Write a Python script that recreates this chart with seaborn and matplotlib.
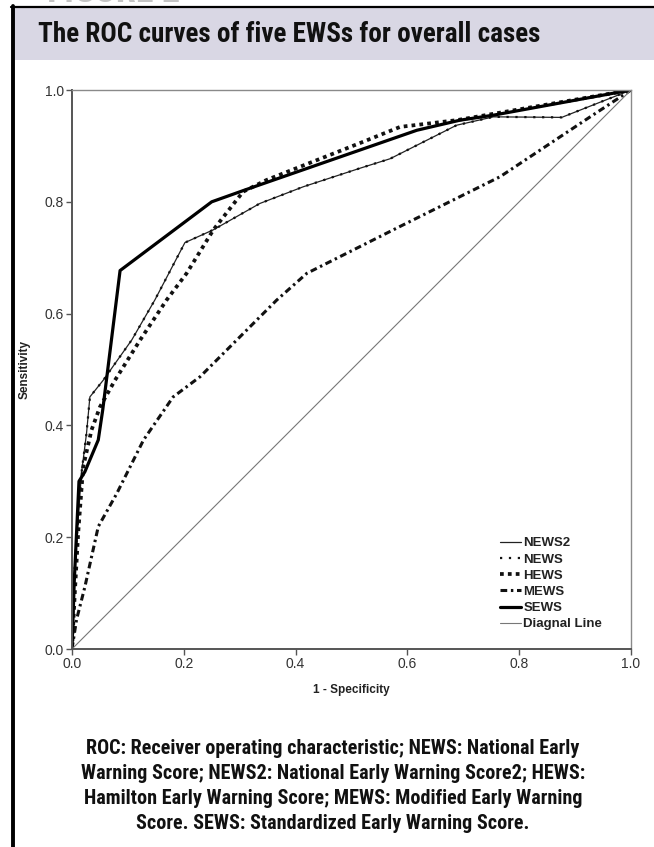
import matplotlib
matplotlib.use("Agg")
import matplotlib.pyplot as plt
from matplotlib import font_manager
from matplotlib.patches import Rectangle
from matplotlib.lines import Line2D
import seaborn as sns
import pandas as pd

# ---------------- data ----------------
news2_x = [0, 0.005, 0.017, 0.026, 0.032, 0.056, 0.107, 0.148, 0.202, 0.253, 0.336, 0.414, 0.515, 0.569, 0.688, 0.754, 0.876, 1.0]
news2_y = [0, 0.15, 0.315, 0.386, 0.451, 0.481, 0.553, 0.624, 0.727, 0.75, 0.797, 0.827, 0.86, 0.877, 0.937, 0.952, 0.951, 1.0]
news_x = [0, 0.005, 0.017, 0.026, 0.032, 0.056, 0.107, 0.148, 0.202, 0.253, 0.336, 0.414, 0.515, 0.569, 0.688, 0.754, 0.876, 1.0]
news_y = [0, 0.15, 0.315, 0.386, 0.451, 0.481, 0.553, 0.624, 0.727, 0.75, 0.797, 0.827, 0.86, 0.877, 0.937, 0.952, 0.951, 1.0]
hews_x = [0, 0.005, 0.011, 0.02, 0.035, 0.05, 0.077, 0.122, 0.169, 0.205, 0.253, 0.306, 0.348, 0.515, 0.587, 0.688, 1.0]
hews_y = [0, 0.1, 0.207, 0.326, 0.392, 0.433, 0.481, 0.553, 0.624, 0.672, 0.75, 0.818, 0.839, 0.905, 0.934, 0.946, 1.0]
mews_x = [0, 0.008, 0.023, 0.047, 0.08, 0.128, 0.181, 0.229, 0.366, 0.42, 0.587, 0.766, 0.927, 1.0]
mews_y = [0, 0.052, 0.111, 0.219, 0.278, 0.374, 0.451, 0.487, 0.624, 0.672, 0.756, 0.845, 0.952, 1.0]
sews_x = [0, 0.004, 0.0125, 0.023, 0.047, 0.055, 0.086, 0.25, 0.309, 0.617, 0.694, 0.754, 1.0]
sews_y = [0, 0.12, 0.30, 0.317, 0.374, 0.428, 0.677, 0.80, 0.821, 0.928, 0.946, 0.955, 1.0]
diag_x = [0, 1]
diag_y = [0, 1]

series_names = ["NEWS2", "NEWS", "HEWS", "MEWS", "SEWS", "Diagnal Line"]
x_ticks = [0.0, 0.2, 0.4, 0.6, 0.8, 1.0]
y_ticks = [0.0, 0.2, 0.4, 0.6, 0.8, 1.0]
title_text = "The ROC curves of five EWSs for overall cases"
caption_lines = [
    "ROC: Receiver operating characteristic; NEWS: National Early",
    "Warning Score; NEWS2: National Early Warning Score2; HEWS:",
    "Hamilton Early Warning Score; MEWS: Modified Early Warning",
    "Score. SEWS: Standardized Early Warning Score.",
]

# ---------------- fonts ----------------
sns.set_theme(style="white")
names = {f.name for f in font_manager.fontManager.ttflist}
cond = None
for cand in ["Liberation Sans Narrow", "Roboto Condensed", "Open Sans Condensed", "DejaVu Sans Condensed"]:
    if cand in names:
        cond = cand
        break
cond_kw = {"family": [cond, "DejaVu Sans"]} if cond else {"family": ["DejaVu Sans"], "stretch": "condensed"}
plt.rcParams["font.family"] = ["Liberation Sans", "DejaVu Sans"]

W, H = 654, 847
fig = plt.figure(figsize=(W / 100, H / 100), dpi=100)
fig.patch.set_facecolor("white")

def fx(px):
    return px / W

def fy(py):
    return 1 - py / H

# header band and border
fig.add_artist(Rectangle((fx(14), fy(60)), fx(W - 14), (60 - 8) / H, transform=fig.transFigure,
                         facecolor="#d9d7e4", edgecolor="none", zorder=0))
fig.add_artist(Line2D([fx(11), fx(W)], [fy(7), fy(7)], transform=fig.transFigure, color="black", lw=1.6))
fig.add_artist(Line2D([fx(12.5), fx(12.5)], [fy(6), fy(H)], transform=fig.transFigure, color="black", lw=2.8))
fig.text(fx(47), fy(2), "FIGURE 2", color="#c4c4c4", fontsize=26, fontweight="bold", va="baseline", ha="left", **cond_kw)
fig.text(fx(38), fy(34), title_text, fontsize=19.5, fontweight="bold", va="center", ha="left", color="#111111", **cond_kw)

# axes
ax = fig.add_axes([fx(72), fy(649), (631 - 72) / W, (649 - 90) / H])
data = {
    "NEWS2": (news2_x, news2_y),
    "NEWS": (news_x, news_y),
    "HEWS": (hews_x, hews_y),
    "MEWS": (mews_x, mews_y),
    "SEWS": (sews_x, sews_y),
    "Diagnal Line": (diag_x, diag_y),
}
styles = {
    "NEWS2": dict(color="#222222", lw=0.9, ls="-"),
    "NEWS": dict(color="#111111", lw=1.6, ls=(0, (1, 3))),
    "HEWS": dict(color="#111111", lw=2.7, ls=(0, (1, 1.1))),
    "MEWS": dict(color="#111111", lw=2.2, ls=(0, (2.2, 1.2, 0.8, 1.2))),
    "SEWS": dict(color="#000000", lw=2.3, ls="-"),
    "Diagnal Line": dict(color="#777777", lw=0.8, ls="-"),
}
for name in series_names:
    xs, ys = data[name]
    df = pd.DataFrame({"x": xs, "y": ys})
    st = styles[name]
    sns.lineplot(data=df, x="x", y="y", sort=False, estimator=None, ax=ax,
                 color=st["color"], linewidth=st["lw"], linestyle=st["ls"], label=name)

ax.set_xlim(0, 1)
ax.set_ylim(0, 1)
ax.set_xticks(x_ticks)
ax.set_yticks(y_ticks)
ax.set_xticklabels([f"{v:.1f}" for v in x_ticks])
ax.set_yticklabels([f"{v:.1f}" for v in y_ticks])
ax.tick_params(axis="both", which="both", direction="out", length=4, width=1, color="#555555",
               labelsize=10, labelcolor="#333333", pad=2, bottom=True, left=True)
for side in ["left", "bottom"]:
    ax.spines[side].set_color("#555555")
    ax.spines[side].set_linewidth(1.4)
for side in ["top", "right"]:
    ax.spines[side].set_color("#8a8a8a")
    ax.spines[side].set_linewidth(1.0)
ax.set_xlabel("1 - Specificity", fontsize=8.5, fontweight="bold", color="#222222", labelpad=9)
ax.set_ylabel("Sensitivity", fontsize=8.5, fontweight="bold", color="#222222", labelpad=10)

leg = ax.legend(loc="upper left", bbox_to_anchor=(0.765, 0.2), frameon=False, fontsize=9.5,
                handlelength=1.6, handletextpad=0.2, labelspacing=0.3, borderaxespad=0, borderpad=0)
for t in leg.get_texts():
    t.set_color("#222222")
    t.set_fontweight("semibold")

# caption
ys_cap = [748, 773, 798, 823]
for line, yy in zip(caption_lines, ys_cap):
    fig.text(fx(333), fy(yy), line, fontsize=14.5, fontweight="bold", ha="center", va="center",
             color="#111111", **cond_kw)

fig.savefig("out.png", dpi=100, facecolor="white")
